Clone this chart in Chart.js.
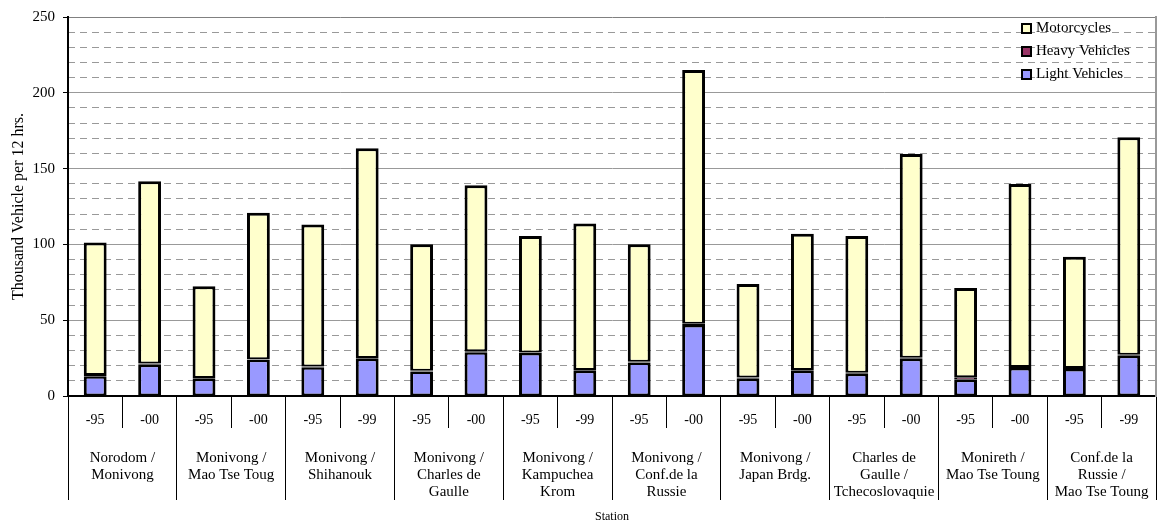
<!DOCTYPE html>
<html><head><meta charset="utf-8">
<script src="https://cdn.jsdelivr.net/npm/chart.js@4.4.1/dist/chart.umd.min.js"></script>
<style>html,body{margin:0;padding:0;background:#fff}#wrap{width:1160px;height:524px}</style>
</head><body><div id="wrap"><canvas id="c" width="1160" height="524"></canvas></div>
<script>
const years = ['-95','-00','-95','-00','-95','-99','-95','-00','-95','-99','-95','-00','-95','-00','-95','-00','-95','-00','-95','-99'];
const stations = [
  ['Norodom /','Monivong'],
  ['Monivong /','Mao Tse Toug'],
  ['Monivong /','Shihanouk'],
  ['Monivong /','Charles de','Gaulle'],
  ['Monivong /','Kampuchea','Krom'],
  ['Monivong /','Conf.de la','Russie'],
  ['Monivong /','Japan Brdg.'],
  ['Charles de','Gaulle /','Tchecoslovaquie'],
  ['Monireth /','Mao Tse Toung'],
  ['Conf.de la','Russie /','Mao Tse Toung']
];
const lightVehicles = [13.0,20.6,11.3,23.9,18.9,24.6,16.2,28.9,28.3,16.7,22.1,46.8,11.3,16.7,14.7,24.6,10.8,18.5,17.8,26.5];
const heavyVehicles = [0.9,0.9,0.5,0.4,0.5,0.4,0.5,0.7,0.4,0.5,0.5,0.9,0.9,0.5,0.6,0.6,1.5,0.6,0.6,0.7];
const motorcycles = [87.3,120.1,60.6,96.5,93.8,138.4,83.4,109.4,76.9,96.6,77.5,167.4,61.7,89.9,90.3,134.5,59.0,120.7,73.4,143.4];
const yTicks = [0,50,100,150,200,250];

const FONT = "'Liberation Serif','Times New Roman',serif";

const legendPlugin = {
  id: 'insideLegend',
  afterDraw(chart) {
    const ctx = chart.ctx, area = chart.chartArea;
    const ds = chart.data.datasets.slice().reverse();
    ctx.save();
    ctx.font = '15px ' + FONT;
    ctx.textBaseline = 'middle';
    ctx.textAlign = 'left';
    ds.forEach((d, i) => {
      const y = area.top + 11.5 + i * 23;
      const x = area.right - 135;
      ctx.fillStyle = d.backgroundColor;
      ctx.fillRect(x, y - 5.5, 11, 11);
      ctx.lineWidth = 2;
      ctx.strokeStyle = '#000';
      ctx.strokeRect(x + 1, y - 4.5, 9, 9);
      ctx.fillStyle = '#000';
      ctx.fillText(d.label, x + 15, y);
    });
    ctx.restore();
  }
};

new Chart(document.getElementById('c'), {
  type: 'bar',
  data: {
    labels: years,
    datasets: [
      {label: 'Light Vehicles', data: lightVehicles, backgroundColor: '#9999FF', borderColor: '#000',
       borderWidth: {top: 2.5, bottom: 2, left: 3, right: 3}, borderSkipped: false, inflateAmount: 0},
      {label: 'Heavy Vehicles', data: heavyVehicles, backgroundColor: '#993366', borderColor: '#000',
       borderWidth: {top: 1, bottom: 1, left: 3, right: 3}, borderSkipped: false, inflateAmount: 0},
      {label: 'Motorcycles', data: motorcycles, backgroundColor: '#FFFFCC', borderColor: '#000',
       borderWidth: {top: 3, bottom: 2, left: 3, right: 3}, borderSkipped: false, inflateAmount: 0}
    ]
  },
  options: {
    responsive: false,
    animation: false,
    events: [],
    datasets: {bar: {barPercentage: 0.42, categoryPercentage: 1}},
    layout: {padding: {top: 14, right: 4, left: 0, bottom: 0}},
    plugins: {legend: {display: false}, tooltip: {enabled: false}},
    scales: {
      x: {
        stacked: true, position: 'bottom',
        grid: {offset: true, drawOnChartArea: false, tickLength: 32, color: '#000', lineWidth: 1},
        border: {display: true, color: '#000', width: 2},
        ticks: {font: {family: FONT, size: 14}, color: '#000', padding: -16, maxRotation: 0, autoSkip: false},
        afterFit: s => { s.height = 32; }
      },
      x2: {
        type: 'category', labels: stations, position: 'bottom', offset: true,
        grid: {offset: true, drawOnChartArea: false, tickLength: 72, color: '#000', lineWidth: 1},
        border: {display: false},
        ticks: {font: {family: FONT, size: 15, lineHeight: 1.15}, color: '#000', padding: -51, maxRotation: 0, autoSkip: false},
        title: {display: true, text: 'Station', color: '#000', font: {family: FONT, size: 12}, padding: {top: 0, bottom: 0}},
        afterFit: s => { s.height = 96; }
      },
      y: {
        stacked: true, min: 0, max: 250,
        afterBuildTicks: s => { s.ticks = yTicks.map(v => ({value: v})); },
        ticks: {font: {family: FONT, size: 15}, color: '#000', padding: 8},
        grid: {color: c => (c.tick && c.tick.value === 250) ? '#808080' : '#999', lineWidth: 1, tickLength: 5, tickColor: '#000'},
        border: {display: true, color: '#000', width: 2},
        title: {display: true, text: 'Thousand Vehicle per 12 hrs.', color: '#000', font: {family: FONT, size: 16}, padding: {top: 9, bottom: 0}},
        afterFit: s => { s.width = 68; }
      },
      y2: {
        position: 'right', min: 0, max: 250,
        ticks: {display: false, stepSize: 10},
        grid: {drawTicks: false, lineWidth: 1, color: c => (c.tick && c.tick.value % 50 === 0) ? 'rgba(0,0,0,0)' : '#999'},
        border: {display: true, color: '#999', width: 2, dash: [7, 5]},
        afterFit: s => { s.width = 0; }
      }
    }
  },
  plugins: [legendPlugin]
});
</script></body></html>
